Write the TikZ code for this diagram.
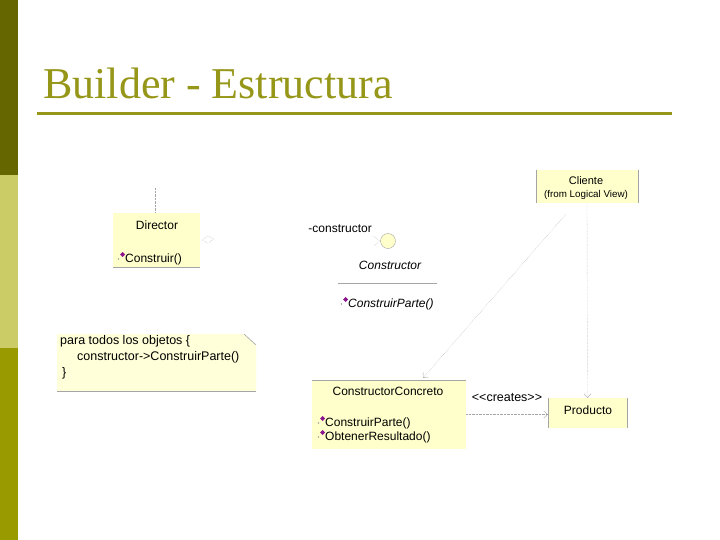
\documentclass[tikz,border=0pt]{standalone}
\usepackage{fontspec}
\setmainfont{Liberation Serif}
\newfontfamily\umlfont[Ligatures=TeXOff]{Liberation Sans}
\usetikzlibrary{positioning,arrows.meta,calc}

\definecolor{bardark}{RGB}{102,102,0}
\definecolor{barlight}{RGB}{204,204,102}
\definecolor{barolive}{RGB}{153,153,0}
\definecolor{titleolive}{RGB}{150,150,25}
\definecolor{umlfill}{RGB}{255,255,204}
\definecolor{notefill}{RGB}{255,255,218}
\definecolor{opmark}{RGB}{140,20,140}
\definecolor{umlline}{RGB}{165,165,165}

\tikzset{
  classbox/.style={fill=umlfill, inner sep=0pt, outer sep=0pt},
  umltext/.style={font=\umlfont\fontsize{12}{14}\selectfont, inner sep=0pt},
  umlitalic/.style={font=\umlfont\itshape\fontsize{12}{14}\selectfont, inner sep=0pt},
  optext/.style={umltext, anchor=west},
  depline/.style={umlline, densely dotted, -{Straight Barb[length=4pt,width=7pt]}},
  edge/.style={umlline, line width=0.6pt},
}
% purple operation marker in front of a method
\newcommand{\opmarker}[1]{%
  \fill[umlline] ($(#1)+(-6.5,0)$) circle (0.8);
  \fill[opmark] ($(#1)+(-2.5,-7)$) -- ++(2.5,2.5) -- ++(-2.5,2.5) -- ++(-2.5,-2.5) -- cycle;}

\begin{document}
\begin{tikzpicture}[x=1pt, y=-1pt]
\useasboundingbox (0,0) rectangle (720,540);
% side bar
\fill[bardark] (0,0) rectangle (18,175);
\fill[barlight] (0,175) rectangle (18,348);
\fill[barolive] (0,348) rectangle (18,540);
% title
\node[anchor=base west, text=titleolive, font=\fontsize{44}{48}\selectfont, inner sep=0pt] (title) at (43,99) {Builder - Estructura};
\draw[titleolive, line width=3pt] (37,114) -- (672,114);
% Director
\node[classbox, minimum width=87pt, minimum height=54pt] (director) at (156.5,240) {};
\draw[edge] (director.south west) -- (director.south east);
\node[umltext] (directorname) at (157,225) {Director};
\node[optext] (construir) at (125,259) {Construir()};
\opmarker{construir.west}
\coordinate (directorup) at (155,188);
\draw[umlline, densely dotted] (directorup) -- (directorup |- director.north);
\draw[umlline, densely dotted] (202,240) -- (208,236) -- (214,239) -- (208,243) -- cycle;
% Constructor (abstract)
\node[circle, draw=umlline, fill=umlfill, minimum size=15pt, inner sep=0pt] (constructor) at (388,241) {};
\node[umltext, anchor=east] (rolename) at (372,229) {-constructor};
\draw[umlline, densely dotted] (373,236) -- (380,241) -- (374,246);
\node[umlitalic] (constructorname) at (390,265) {Constructor};
\draw[edge] (338,283) -- (437,283);
\node[umlitalic, anchor=west] (construirparte) at (348,304) {ConstruirParte()};
\opmarker{construirparte.west}
% note
\fill[notefill] (57,334) -- (244,334) -- (256,345) -- (256,391) -- (57,391) -- cycle;
\draw[edge] (244,334) -- (256,345);
\draw[edge] (57,391) -- (256,391);
\node[umltext, anchor=west, font=\umlfont\fontsize{12.5}{14}\selectfont] (noteone) at (60,341) {para todos los objetos \{};
\node[umltext, anchor=west, font=\umlfont\fontsize{12.5}{14}\selectfont] (notetwo) at (77,357) {constructor->ConstruirParte()};
\node[umltext, anchor=west, font=\umlfont\fontsize{12.5}{14}\selectfont] (notethree) at (62,373) {\}};
% ConstructorConcreto
\node[classbox, minimum width=154pt, minimum height=69pt] (concreto) at (389,414.5) {};
\draw[edge] (concreto.north west) -- (concreto.north east);
\node[umltext] (concretoname) at (388,391) {ConstructorConcreto};
\node[optext] (construirparteb) at (325,423) {ConstruirParte()};
\opmarker{construirparteb.west}
\node[optext] (obtener) at (325,437) {ObtenerResultado()};
\opmarker{obtener.west}
% Producto
\node[classbox, minimum width=79pt, minimum height=30pt] (producto) at (587.5,413) {};
\draw[edge] (producto.north west) -- (producto.south west);
\draw[edge] (producto.north east) -- (producto.south east);
\node[umltext] (productoname) at (588,410) {Producto};
% Cliente
\node[classbox, minimum width=102pt, minimum height=33pt] (cliente) at (587,187) {};
\draw[edge] (cliente.north west) -- (cliente.south west);
\draw[edge] (cliente.north east) -- (cliente.south east);
\node[umltext, font=\umlfont\fontsize{11}{13}\selectfont] (clientename) at (586,181) {Cliente};
\node[umltext, font=\umlfont\fontsize{9.8}{12}\selectfont] (clientefrom) at (586,195) {(from Logical View)};
% dependencies
\draw[depline] (cliente.south) -- (producto.north);
\coordinate (clientefoot) at (566,214);
\coordinate (concretotop) at (423,378);
\draw[depline] (clientefoot) -- (concretotop);
\draw[depline] (concreto.east) -- (concreto.east -| producto.west);
\node[umltext, font=\umlfont\fontsize{12.5}{14}\selectfont] (creates) at (507,398) {<<creates>>};
\end{tikzpicture}
\end{document}
